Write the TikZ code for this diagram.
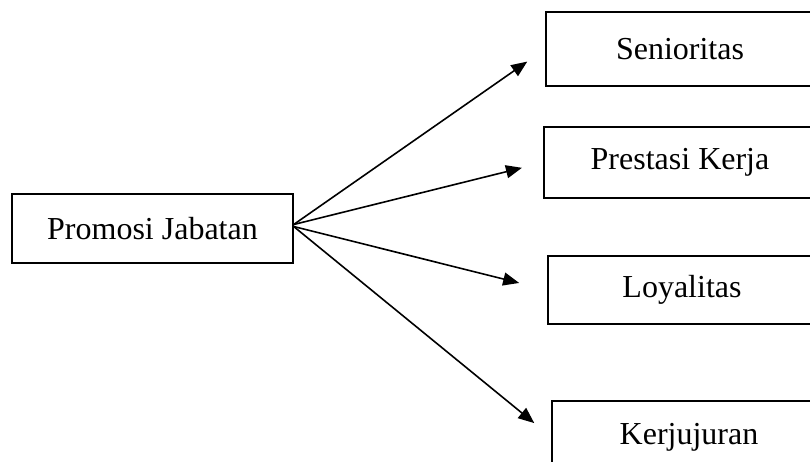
\documentclass[tikz,border=0pt]{standalone}
\usepackage{fontspec}
\setmainfont{Liberation Serif}
\usetikzlibrary{arrows.meta}

\begin{document}
\begin{tikzpicture}[
  x=1pt, y=-1pt,
  every node/.style={font=\fontsize{32}{36}\selectfont},
  box/.style={draw, line width=1.4pt, align=center, inner sep=0pt},
  arrow/.style={-{Triangle[length=16pt,width=13pt]}, line width=1.6pt}
]
\useasboundingbox (0,0) rectangle (810,461);
\clip (0,0) rectangle (810,461);

\node[box, minimum width=281pt, minimum height=69pt] (promosi) at (152.5,228.5) {Promosi Jabatan};

\node[box, minimum width=268pt, minimum height=74pt] (senioritas) at (680,49) {Senioritas};
\node[box, minimum width=272pt, minimum height=71pt] (prestasi) at (680,162.5) {Prestasi Kerja};
\node[box, minimum width=268pt, minimum height=68pt] (loyalitas) at (682,290) {Loyalitas};
\node[box, minimum width=274pt, minimum height=72pt] (kejujuran) at (689,437) {Kerjujuran};

\draw[arrow, shorten >=22pt] ([yshift=4pt]promosi.east) -- (senioritas.west);
\draw[arrow, shorten >=22pt] ([yshift=4pt]promosi.east) -- (prestasi.west);
\draw[arrow, shorten >=29pt] ([yshift=2pt]promosi.east) -- (loyalitas.west);
\draw[arrow, shorten >=22pt] ([yshift=2pt]promosi.east) -- (kejujuran.west);
\end{tikzpicture}
\end{document}
